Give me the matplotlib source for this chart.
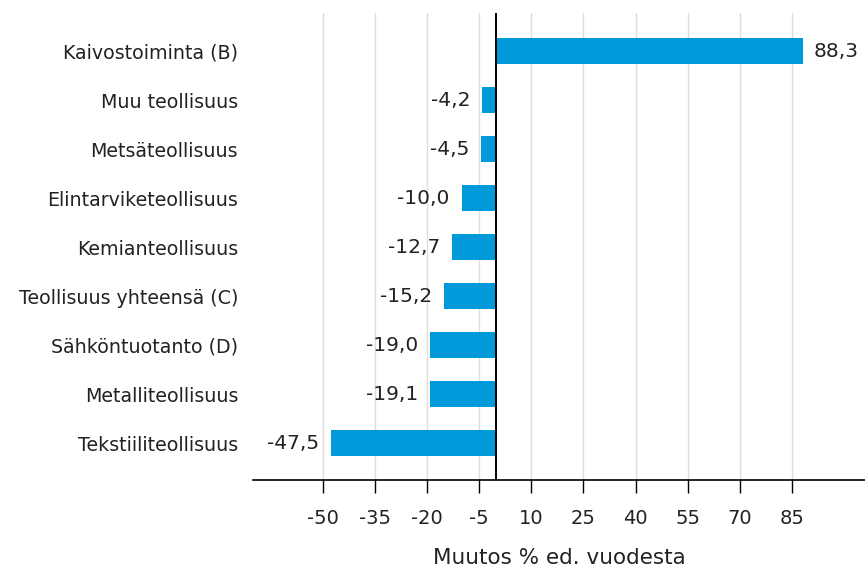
import matplotlib
matplotlib.use("Agg")
import matplotlib.pyplot as plt

categories = ["Kaivostoiminta (B)", "Muu teollisuus", "Metsäteollisuus",
              "Elintarviketeollisuus", "Kemianteollisuus", "Teollisuus yhteensä (C)",
              "Sähköntuotanto (D)", "Metalliteollisuus", "Tekstiiliteollisuus"]
values = [88.3, -4.2, -4.5, -10.0, -12.7, -15.2, -19.0, -19.1, -47.5]
xticks = [-50, -35, -20, -5, 10, 25, 40, 55, 70, 85]

plt.rcParams['font.family'] = ['DejaVu Sans']

fig = plt.figure(figsize=(8.65, 5.69), dpi=100)
ax = fig.add_axes([0.2925, 0.1564, 0.7075, 0.8206])

ypos = list(range(len(categories)))
ax.barh(ypos, values, height=0.53, color='#009ADA', zorder=3)
ax.set_xlim(-70, 106)
ax.set_ylim(8.755, -0.776)

for y, v in zip(ypos, values):
    lab = f"{v:.1f}".replace('.', ',')
    if v >= 0:
        ax.annotate(lab, (v, y), xytext=(7, 0), textcoords='offset points',
                    ha='left', va='center', fontsize=14.5, color='#222222')
    else:
        ax.annotate(lab, (v, y), xytext=(-8.5, 0), textcoords='offset points',
                    ha='right', va='center', fontsize=14.5, color='#222222')

ax.set_yticks(ypos)
ax.set_yticklabels(categories, fontsize=13.7, color='#222222')
ax.tick_params(axis='y', length=0, pad=10.8)
ax.set_xticks(xticks)
ax.set_xticklabels([str(t) for t in xticks], fontsize=14, color='#222222')
ax.tick_params(axis='x', length=9, width=1, direction='out', pad=12, color='#000000')

ax.grid(axis='x', color='#dddddd', linewidth=1, zorder=0)
ax.set_axisbelow(True)
for s in ['top', 'right', 'left']:
    ax.spines[s].set_visible(False)
ax.spines['bottom'].set_color('black')
ax.spines['bottom'].set_linewidth(1.2)
ax.axvline(0, color='black', linewidth=1.4, zorder=4)

ax.set_xlabel("Muutos % ed. vuodesta", fontsize=15.5, color='#222222', labelpad=14)

fig.savefig("out.png", dpi=100)
